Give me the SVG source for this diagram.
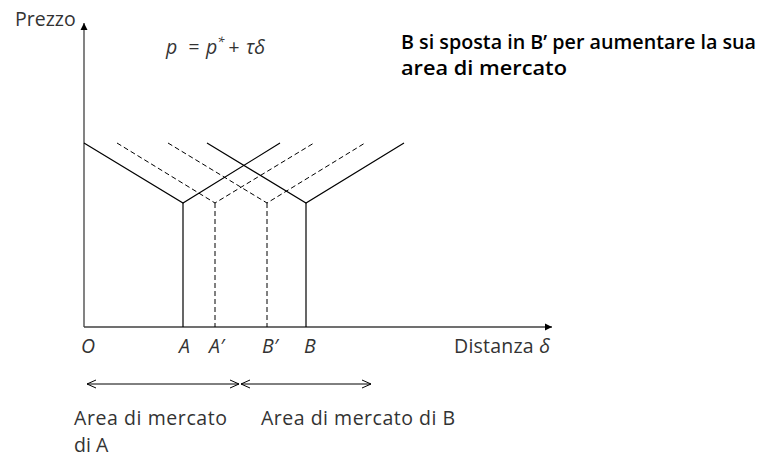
<svg xmlns="http://www.w3.org/2000/svg" width="760" height="459" viewBox="0 0 760 459">
<style>
.t{font-family:"Open Sans","Segoe UI","DejaVu Sans",sans-serif;font-size:19.5px;fill:#333}
.i{font-style:italic}
.h{font-family:"Open Sans","Liberation Sans",sans-serif;font-size:19px;font-weight:600;fill:#000}
.s{stroke:#000;stroke-width:1.2;fill:none}
.d{stroke:#000;stroke-width:1;fill:none;stroke-dasharray:5,3}
.ax{stroke:#404040;stroke-width:1.3;fill:none}
.dbl{stroke:#000;stroke-width:1;fill:none}
</style>
<defs>
<marker id="ah" markerWidth="8" markerHeight="8" refX="7" refY="4" orient="auto" markerUnits="userSpaceOnUse">
<path d="M0,0.5 L7,4 L0,7.5 Z" fill="#000"/>
</marker>
<marker id="op" markerWidth="10" markerHeight="10" refX="9" refY="5" orient="auto-start-reverse" markerUnits="userSpaceOnUse">
<path d="M0,1 L9,5 L0,9" fill="none" stroke="#000" stroke-width="1"/>
</marker>
</defs>
<g id="axes">
<line class="ax" x1="84" y1="327" x2="84" y2="23" marker-end="url(#ah)"/>
<line class="ax" x1="84" y1="327" x2="552" y2="327" marker-end="url(#ah)"/>
</g>
<g id="connectors">
<polyline id="firmA" class="s" points="84,143 183,203 280,143"/>
<line class="s" x1="183" y1="203" x2="183" y2="327"/>
<polyline id="firmAprime" class="d" points="117,143 215,203 314,143"/>
<line class="d" x1="215" y1="203" x2="215" y2="327"/>
<polyline id="firmBprime" class="d" points="168,143 267,203 365,143"/>
<line class="d" x1="267" y1="203" x2="267" y2="327"/>
<polyline id="firmB" class="s" points="207,143 306,203 404,143"/>
<line class="s" x1="306" y1="203" x2="306" y2="327"/>
<line class="dbl" x1="87" y1="384" x2="239" y2="384" marker-start="url(#op)" marker-end="url(#op)"/>
<line class="dbl" x1="241" y1="384" x2="371" y2="384" marker-start="url(#op)" marker-end="url(#op)"/>
</g>
<g id="labels">
<text class="t" x="15" y="26">Prezzo</text>
<text class="t i" y="54"><tspan x="166">p</tspan><tspan x="188">=</tspan><tspan x="206">p</tspan><tspan dy="-8" font-size="13">*</tspan><tspan x="228" dy="8">+</tspan><tspan x="246">τδ</tspan></text>
<text class="h" x="401" y="49" textLength="355" lengthAdjust="spacingAndGlyphs">B si sposta in B’ per aumentare la sua</text>
<text class="h" x="401" y="75" textLength="166" lengthAdjust="spacingAndGlyphs">area di mercato</text>
<text class="t i" x="81" y="353">O</text>
<text class="t i" x="179" y="353">A</text>
<text class="t i" x="209" y="353">A′</text>
<text class="t i" x="262" y="353">B′</text>
<text class="t i" x="304" y="353">B</text>
<text class="t" x="454" y="353" textLength="96">Distanza <tspan class="i">δ</tspan></text>
<text class="t" x="74" y="425" textLength="153">Area di mercato</text>
<text class="t" x="74" y="452">di A</text>
<text class="t" x="261" y="425" textLength="194">Area di mercato di B</text>
</g>
</svg>
